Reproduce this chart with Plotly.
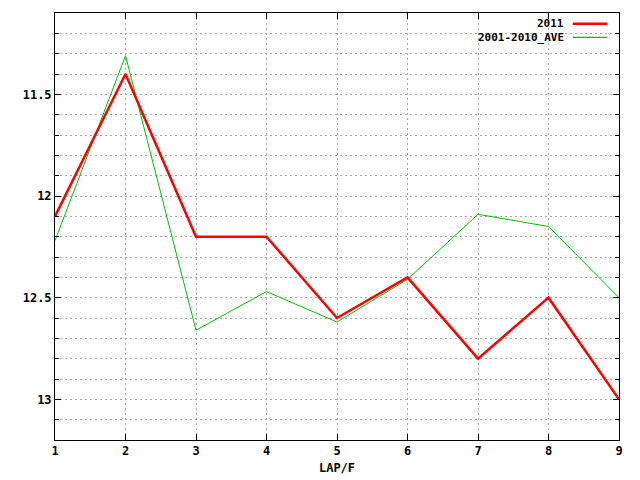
import plotly.graph_objects as go

laps = [1, 2, 3, 4, 5, 6, 7, 8, 9]
y2011 = [12.1, 11.4, 12.2, 12.2, 12.6, 12.4, 12.8, 12.5, 13.0]
y_ave = [12.22, 11.31, 12.66, 12.47, 12.62, 12.41, 12.09, 12.15, 12.5]

ytickvals = [11.5, 12, 12.5, 13]
yticktext = ["11.5", "12", "12.5", "13"]
xtickvals = laps
xticktext = [str(v) for v in laps]

font = dict(family="DejaVu Sans Mono", size=12, color="black")
legfont = dict(family="DejaVu Sans Mono", size=11, color="black")
gridc = "#a8a8a8"
dash = "2px,3px"

fig = go.Figure()
fig.add_trace(go.Scatter(x=laps, y=y_ave, mode="lines", name="2001-2010_AVE",
                         line=dict(color="#00c000", width=1), showlegend=False))
fig.add_trace(go.Scatter(x=laps, y=y2011, mode="lines", name="2011",
                         line=dict(color="#ff0000", width=2.5), showlegend=False))

# custom legend (gnuplot style: text then sample)
leg = [("2011", "#ff0000", 2.5, 0.975), ("2001-2010_AVE", "#00c000", 1.2, 0.943)]
for txt, col, w, yy in leg:
    fig.add_annotation(x=0.904, y=yy, xref="paper", yref="paper", text="<b>%s</b>" % txt,
                       showarrow=False, xanchor="right", yanchor="middle", font=legfont,
                       borderpad=0)
    fig.add_shape(type="line", xref="paper", yref="paper", x0=0.918, x1=0.979, y0=yy, y1=yy,
                  line=dict(color=col, width=w))

fig.update_layout(
    width=640, height=480,
    margin=dict(l=47, r=29, t=5, b=48),
    paper_bgcolor="white", plot_bgcolor="white",
    font=font,
    xaxis=dict(range=[1, 9], tickvals=xtickvals, ticktext=["<b>%s</b>" % t for t in xticktext],
               showgrid=True, gridcolor=gridc, griddash=dash, gridwidth=1,
               showline=True, linecolor="black", linewidth=1, mirror="allticks",
               ticks="inside", ticklen=6, tickcolor="black", zeroline=False,
               title=dict(text="<b>LAP/F</b>", font=font, standoff=6)),
    yaxis=dict(range=[13.2, 11.1], tickvals=ytickvals, ticktext=["<b>%s</b>" % t for t in yticktext],
               showgrid=True, gridcolor=gridc, griddash=dash, gridwidth=1,
               showline=True, linecolor="black", linewidth=1, mirror="allticks",
               ticks="inside", ticklen=6, tickcolor="black", zeroline=False,
               minor=dict(dtick=0.1, tick0=11.1, showgrid=True, gridcolor=gridc,
                          griddash=dash, ticks="inside", ticklen=4, tickcolor="black")),
)

fig.write_html("out.html")
